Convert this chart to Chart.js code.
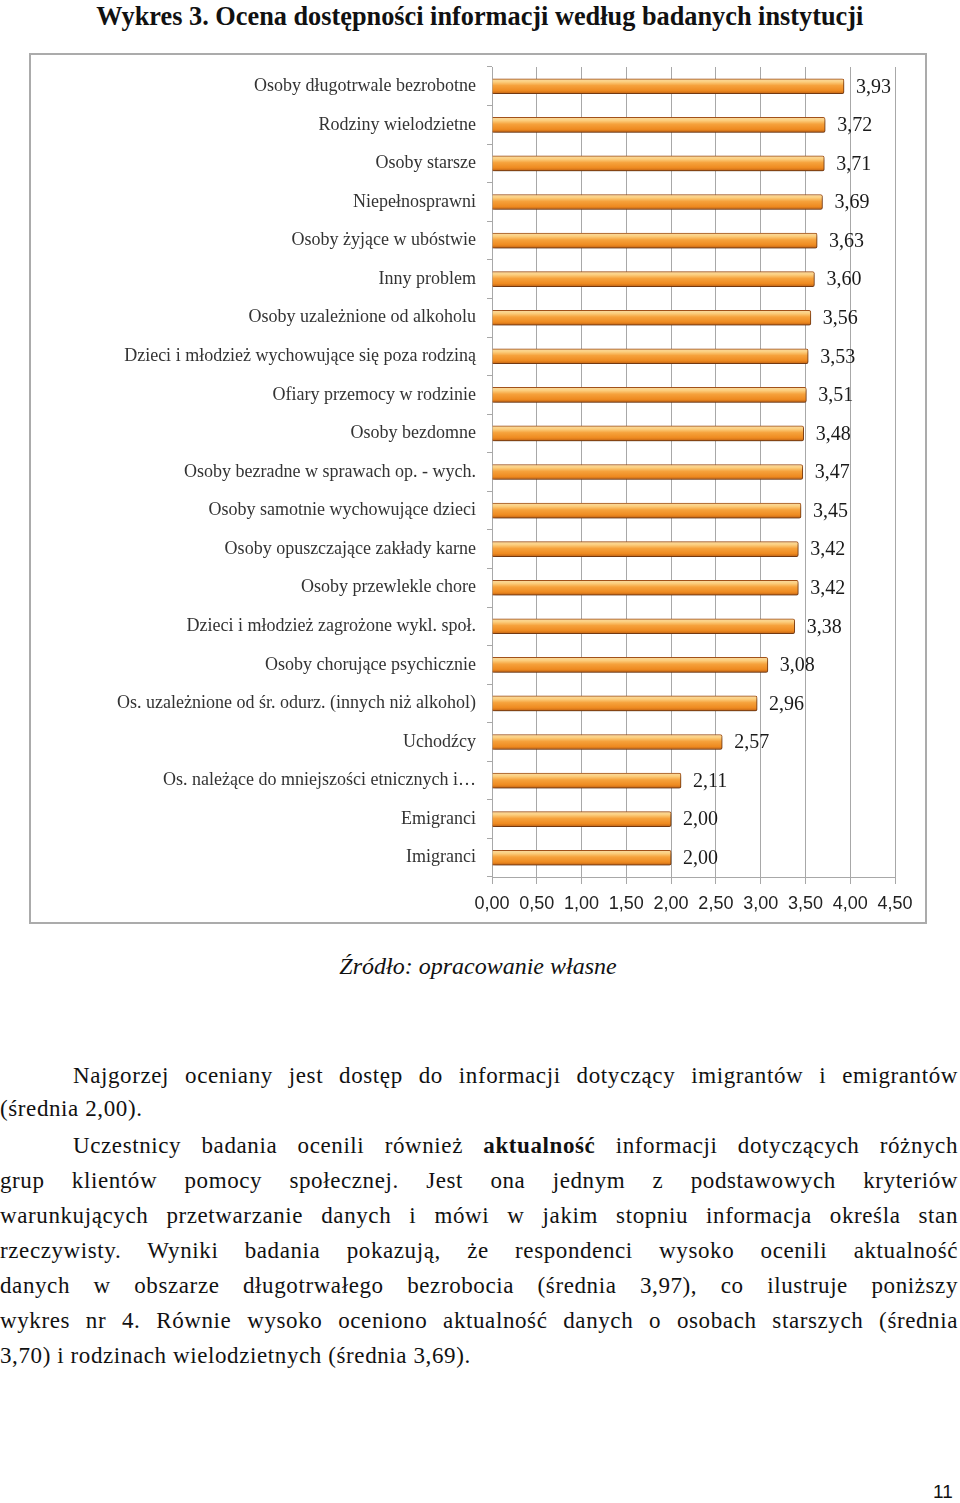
<!DOCTYPE html>
<html>
<head>
<meta charset="utf-8">
<script src="https://cdn.jsdelivr.net/npm/chart.js@4.4.1/dist/chart.umd.min.js"></script>
<style>
  html,body{margin:0;padding:0;background:#fff;}
  body{width:960px;height:1503px;position:relative;overflow:hidden;font-family:"Liberation Serif",serif;color:#111;}
  #title{position:absolute;left:0;width:960px;top:0;height:32px;line-height:32px;text-align:center;font-size:27px;font-weight:bold;white-space:nowrap;}
  #title span{display:inline-block;transform-origin:center center;}
  #box{position:absolute;left:29px;top:53px;width:898px;height:871px;box-sizing:border-box;border:2px solid #ababab;}
  #wrap{position:absolute;left:31px;top:55px;width:894px;height:867px;}
  #src{position:absolute;left:0;width:956px;top:948px;height:36px;line-height:36px;text-align:center;font-style:italic;font-size:24px;}
  .ln{position:absolute;left:0;width:958px;height:35px;line-height:35px;font-size:23px;letter-spacing:0.6px;white-space:nowrap;color:#111;}
  .j{text-align:justify;text-align-last:justify;white-space:normal;}
  .ind{left:73px;width:885px;}
  #pg{position:absolute;left:933px;top:1481px;font-family:"Liberation Sans",sans-serif;font-size:19px;color:#111;}
</style>
</head>
<body>
<div id="title"><span id="tspan">Wykres 3. Ocena dostępności informacji według badanych instytucji</span></div>
<div id="box"></div>
<div id="wrap"><canvas id="c"></canvas></div>
<div id="src">Źródło: opracowanie własne</div>

<div class="ln j ind" style="top:1058px">Najgorzej oceniany jest dostęp do informacji dotyczący imigrantów i emigrantów</div>
<div class="ln" style="top:1091px">(średnia 2,00).</div>
<div class="ln j ind" style="top:1128px">Uczestnicy badania ocenili również <b>aktualność</b> informacji dotyczących różnych</div>
<div class="ln j" style="top:1163px">grup klientów pomocy społecznej. Jest ona jednym z podstawowych kryteriów</div>
<div class="ln j" style="top:1198px">warunkujących przetwarzanie danych i mówi w jakim stopniu informacja określa stan</div>
<div class="ln j" style="top:1233px">rzeczywisty. Wyniki badania pokazują, że respondenci wysoko ocenili aktualność</div>
<div class="ln j" style="top:1268px">danych w obszarze długotrwałego bezrobocia (średnia 3,97), co ilustruje poniższy</div>
<div class="ln j" style="top:1303px">wykres nr 4. Równie wysoko oceniono aktualność danych o osobach starszych (średnia</div>
<div class="ln" style="top:1338px">3,70) i rodzinach wielodzietnych (średnia 3,69).</div>
<div id="pg">11</div>

<script>
const categories = [
  "Osoby długotrwale bezrobotne",
  "Rodziny wielodzietne",
  "Osoby starsze",
  "Niepełnosprawni",
  "Osoby żyjące w ubóstwie",
  "Inny problem",
  "Osoby uzależnione od alkoholu",
  "Dzieci i młodzież wychowujące się poza rodziną",
  "Ofiary przemocy w rodzinie",
  "Osoby bezdomne",
  "Osoby bezradne w sprawach op. - wych.",
  "Osoby samotnie wychowujące dzieci",
  "Osoby opuszczające zakłady karne",
  "Osoby przewlekle chore",
  "Dzieci i młodzież zagrożone wykl. społ.",
  "Osoby chorujące psychicznie",
  "Os. uzależnione od śr. odurz. (innych niż alkohol)",
  "Uchodźcy",
  "Os. należące do mniejszości etnicznych i…",
  "Emigranci",
  "Imigranci"
];
const values = [3.93,3.72,3.71,3.69,3.63,3.60,3.56,3.53,3.51,3.48,3.47,3.45,3.42,3.42,3.38,3.08,2.96,2.57,2.11,2.00,2.00];
const xMin = 0, xMax = 4.5, xStep = 0.5;

// fit the title width
(function(){
  const s = document.getElementById('tspan');
  const w = s.getBoundingClientRect().width;
  s.style.transform = 'scaleX(' + (767 / w) + ')';
})();

const fmt = v => v.toFixed(2).replace('.', ',');

function barFill(ctx){
  const chart = ctx.chart;
  const y = chart.scales && chart.scales.y;
  if (!y || !chart.chartArea || ctx.dataIndex === undefined) return '#f0962e';
  const c = y.getPixelForValue(ctx.dataIndex);
  const g = chart.ctx.createLinearGradient(0, c - 7.5, 0, c + 7.5);
  g.addColorStop(0, '#f9d9a0');
  g.addColorStop(0.2, '#fcd080');
  g.addColorStop(0.45, '#f6a23c');
  g.addColorStop(0.8, '#ee8a20');
  g.addColorStop(1, '#bd6116');
  return g;
}

const fx = {
  id: 'fx',
  beforeDatasetsDraw(chart){
    const c = chart.ctx;
    c.save();
    c.shadowColor = 'rgba(0,0,0,0.35)';
    c.shadowBlur = 3;
    c.shadowOffsetX = 1;
    c.shadowOffsetY = 2;
  },
  afterDatasetsDraw(chart){
    const c = chart.ctx;
    c.restore();
    c.save();
    c.font = '20px "Liberation Serif", serif';
    c.fillStyle = '#1a1a1a';
    c.textBaseline = 'middle';
    c.textAlign = 'left';
    chart.getDatasetMeta(0).data.forEach((bar, i) => {
      c.fillText(fmt(values[i]), bar.x + 12, bar.y + 1);
    });
    c.restore();
  }
};

new Chart(document.getElementById('c'), {
  type: 'bar',
  data: {
    labels: categories,
    datasets: [{
      data: values,
      backgroundColor: barFill,
      borderColor: '#a3521a',
      borderWidth: 1,
      borderSkipped: 'start',
      borderRadius: {topRight: 2, bottomRight: 2, topLeft: 0, bottomLeft: 0},
      barThickness: 15
    }]
  },
  options: {
    indexAxis: 'y',
    responsive: true,
    maintainAspectRatio: false,
    animation: false,
    layout: {padding: {top: 12, right: 30, left: 0, bottom: 0}},
    plugins: {legend: {display: false}, tooltip: {enabled: false}},
    scales: {
      x: {
        min: xMin, max: xMax,
        ticks: {stepSize: xStep, callback: v => fmt(v), color: '#222', padding: 9,
                font: {family: '"Liberation Sans", sans-serif', size: 18}},
        grid: {color: '#a8a8a8', lineWidth: 1, tickLength: 7, drawTicks: true},
        border: {color: '#a8a8a8', width: 1},
        afterFit(s){ s.height = 45; }
      },
      y: {
        ticks: {color: '#333', padding: 11, autoSkip: false,
                font: {family: '"Liberation Serif", serif', size: 18}},
        grid: {drawOnChartArea: false, drawTicks: true, tickLength: 5, color: '#a8a8a8', offset: true},
        border: {color: '#a8a8a8', width: 1},
        afterFit(s){ s.width = 461; s.paddingTop = 0; s.paddingBottom = 0; }
      }
    }
  },
  plugins: [fx]
});
</script>
</body>
</html>
